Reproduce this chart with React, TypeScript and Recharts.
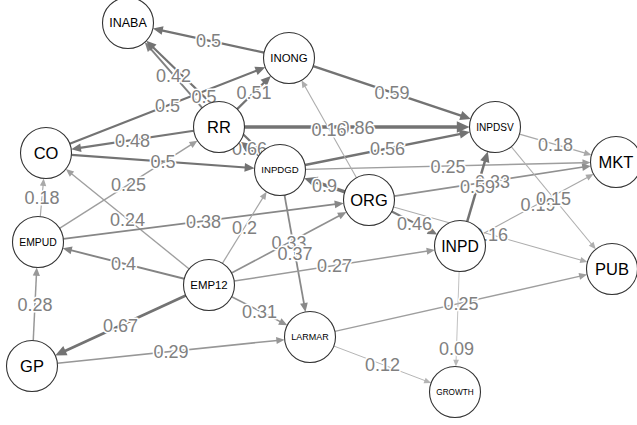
import React from 'react';
import { ScatterChart, Scatter, XAxis, YAxis } from 'recharts';

// ---- data ----
const NODE_NAMES = ['INABA', 'INONG', 'RR', 'CO', 'INPDGD', 'INPDSV', 'MKT', 'ORG', 'INPD', 'EMPUD', 'EMP12', 'PUB', 'LARMAR', 'GP', 'GROWTH'];
const NODE_X = [128, 289, 219, 46, 280, 495, 616, 369, 460, 38, 209, 612, 310, 32, 455];
const NODE_Y = [23, 58, 127, 153, 170, 127, 162, 200, 246, 242, 285, 269, 337, 366, 392];

const EDGE_FROM = ['INONG', 'RR', 'INPDGD', 'CO', 'RR', 'RR', 'RR', 'INPDGD', 'CO', 'EMPUD', 'EMPUD', 'EMP12', 'EMPUD', 'EMP12', 'EMP12', 'EMP12', 'INPDGD', 'EMP12', 'EMP12', 'EMP12', 'GP', 'GP', 'ORG', 'INPDGD', 'INPDGD', 'ORG', 'INONG', 'ORG', 'ORG', 'ORG', 'INPD', 'INPD', 'INPDSV', 'INPDSV', 'LARMAR', 'LARMAR', 'INPD'];
const EDGE_TO = ['INABA', 'INABA', 'INABA', 'INONG', 'INONG', 'CO', 'INPDSV', 'RR', 'INPDGD', 'RR', 'CO', 'CO', 'ORG', 'EMPUD', 'INPDGD', 'ORG', 'LARMAR', 'INPD', 'LARMAR', 'GP', 'EMPUD', 'LARMAR', 'INPDGD', 'INPDSV', 'MKT', 'INONG', 'INPDSV', 'INPD', 'MKT', 'PUB', 'INPDSV', 'MKT', 'MKT', 'PUB', 'PUB', 'GROWTH', 'GROWTH'];
const EDGE_WEIGHT = [0.5, 0.42, 0.5, 0.5, 0.51, 0.48, 0.86, 0.66, 0.5, 0.25, 0.18, 0.24, 0.38, 0.4, 0.2, 0.33, 0.37, 0.27, 0.31, 0.67, 0.28, 0.29, 0.9, 0.56, 0.25, 0.16, 0.59, 0.46, 0.33, 0.16, 0.59, 0.19, 0.18, 0.15, 0.25, 0.12, 0.09];

// ---- layout / style helpers ----
const W = 637;
const H = 425;
const R = 25.5;
const FONT = '"Liberation Sans", Arial, Helvetica, sans-serif';
const LABEL_AT: Record<number, number> = { 36: 0.7 };

const CHAR_W: Record<string, number> = {
  A: 0.667, B: 0.667, C: 0.722, D: 0.722, E: 0.667, G: 0.778, H: 0.722, I: 0.278, K: 0.667,
  L: 0.556, M: 0.833, N: 0.722, O: 0.778, P: 0.667, R: 0.722, S: 0.667, T: 0.611, U: 0.722,
  V: 0.667, W: 0.944, '1': 0.556, '2': 0.556,
};

const nodeIndex = (n: string) => NODE_NAMES.indexOf(n);

function edgeColor(w: number) {
  const t = Math.min(1, w / 0.5);
  const v = Math.round(200 - t * 85);
  return `rgb(${v},${v},${v})`;
}

const nodes = NODE_NAMES.map((name, i) => {
  const em = name.split('').reduce((s, c) => s + (CHAR_W[c] ?? 0.7), 0);
  return { x: NODE_X[i], y: NODE_Y[i], name, fs: Math.min(16.5, 37.5 / em) };
});

const edges = EDGE_FROM.map((f, i) => {
  const s = nodes[nodeIndex(f)];
  const t = nodes[nodeIndex(EDGE_TO[i])];
  const w = EDGE_WEIGHT[i];
  const dx = t.x - s.x;
  const dy = t.y - s.y;
  const len = Math.hypot(dx, dy);
  const ux = dx / len;
  const uy = dy / len;
  const hl = 6 + w * 9;
  const hw = hl * 0.42;
  const lw = 0.6 + w * 3.2;
  const color = edgeColor(w);
  const tipX = t.x - ux * R;
  const tipY = t.y - uy * R;
  const baseX = tipX - ux * hl * 0.85;
  const baseY = tipY - uy * hl * 0.85;
  const frac = LABEL_AT[i] ?? 0.5;
  return {
    points: [
      { x: s.x + ux * R, y: s.y + uy * R, end: false },
      { x: baseX, y: baseY, end: true, ux, uy, hl: hl * 0.85, hw, color },
    ],
    lw,
    color,
    label: { x: s.x + dx * frac, y: s.y + dy * frac, text: String(w) },
  };
});

const labels = edges.map((e) => e.label);

const ArrowShape = (props: any) => {
  const { cx, cy, payload } = props;
  if (!payload || !payload.end) return <g />;
  const { ux, uy, hl, hw, color } = payload;
  const tx = cx + ux * hl;
  const ty = cy + uy * hl;
  const px = -uy;
  const py = ux;
  const bx = cx - ux * 1;
  const by = cy - uy * 1;
  const d = `M${tx},${ty} L${bx + px * hw},${by + py * hw} L${bx - px * hw},${by - py * hw} Z`;
  return <path d={d} fill={color} stroke="none" />;
};

const LabelShape = (props: any) => {
  const { cx, cy, payload } = props;
  return (
    <text
      x={cx}
      y={cy + 6.5}
      textAnchor="middle"
      fontFamily={FONT}
      fontSize={18}
      fill="#808080"
      stroke="#ffffff"
      strokeWidth={3}
      strokeLinejoin="round"
      paintOrder="stroke"
    >
      {payload.text}
    </text>
  );
};

const NodeShape = (props: any) => {
  const { cx, cy, payload } = props;
  return (
    <g>
      <circle cx={cx} cy={cy} r={R} fill="#ffffff" stroke="#333333" strokeWidth={1.1} />
      <text
        x={cx}
        y={cy + payload.fs * 0.36}
        textAnchor="middle"
        fontFamily={FONT}
        fontSize={payload.fs}
        fill="#000000"
      >
        {payload.name}
      </text>
    </g>
  );
};

export default function App() {
  return (
    <div style={{ position: 'absolute', left: 0, top: 0, width: W, height: H, background: '#ffffff' }}>
      <ScatterChart width={W} height={H} margin={{ top: 0, right: 0, bottom: 0, left: 0 }}>
        <XAxis type="number" dataKey="x" domain={[0, W]} hide allowDataOverflow />
        <YAxis type="number" dataKey="y" domain={[0, H]} hide reversed allowDataOverflow />
        {edges.map((e, i) => (
          <Scatter
            key={`edge-${i}`}
            data={e.points}
            line={{ stroke: e.color, strokeWidth: e.lw }}
            lineType="joint"
            fill={e.color}
            shape={ArrowShape}
            isAnimationActive={false}
          />
        ))}
        <Scatter key="labels" data={labels} fill="#808080" shape={LabelShape} isAnimationActive={false} />
        <Scatter key="nodes" data={nodes} fill="#ffffff" shape={NodeShape} isAnimationActive={false} />
      </ScatterChart>
    </div>
  );
}
